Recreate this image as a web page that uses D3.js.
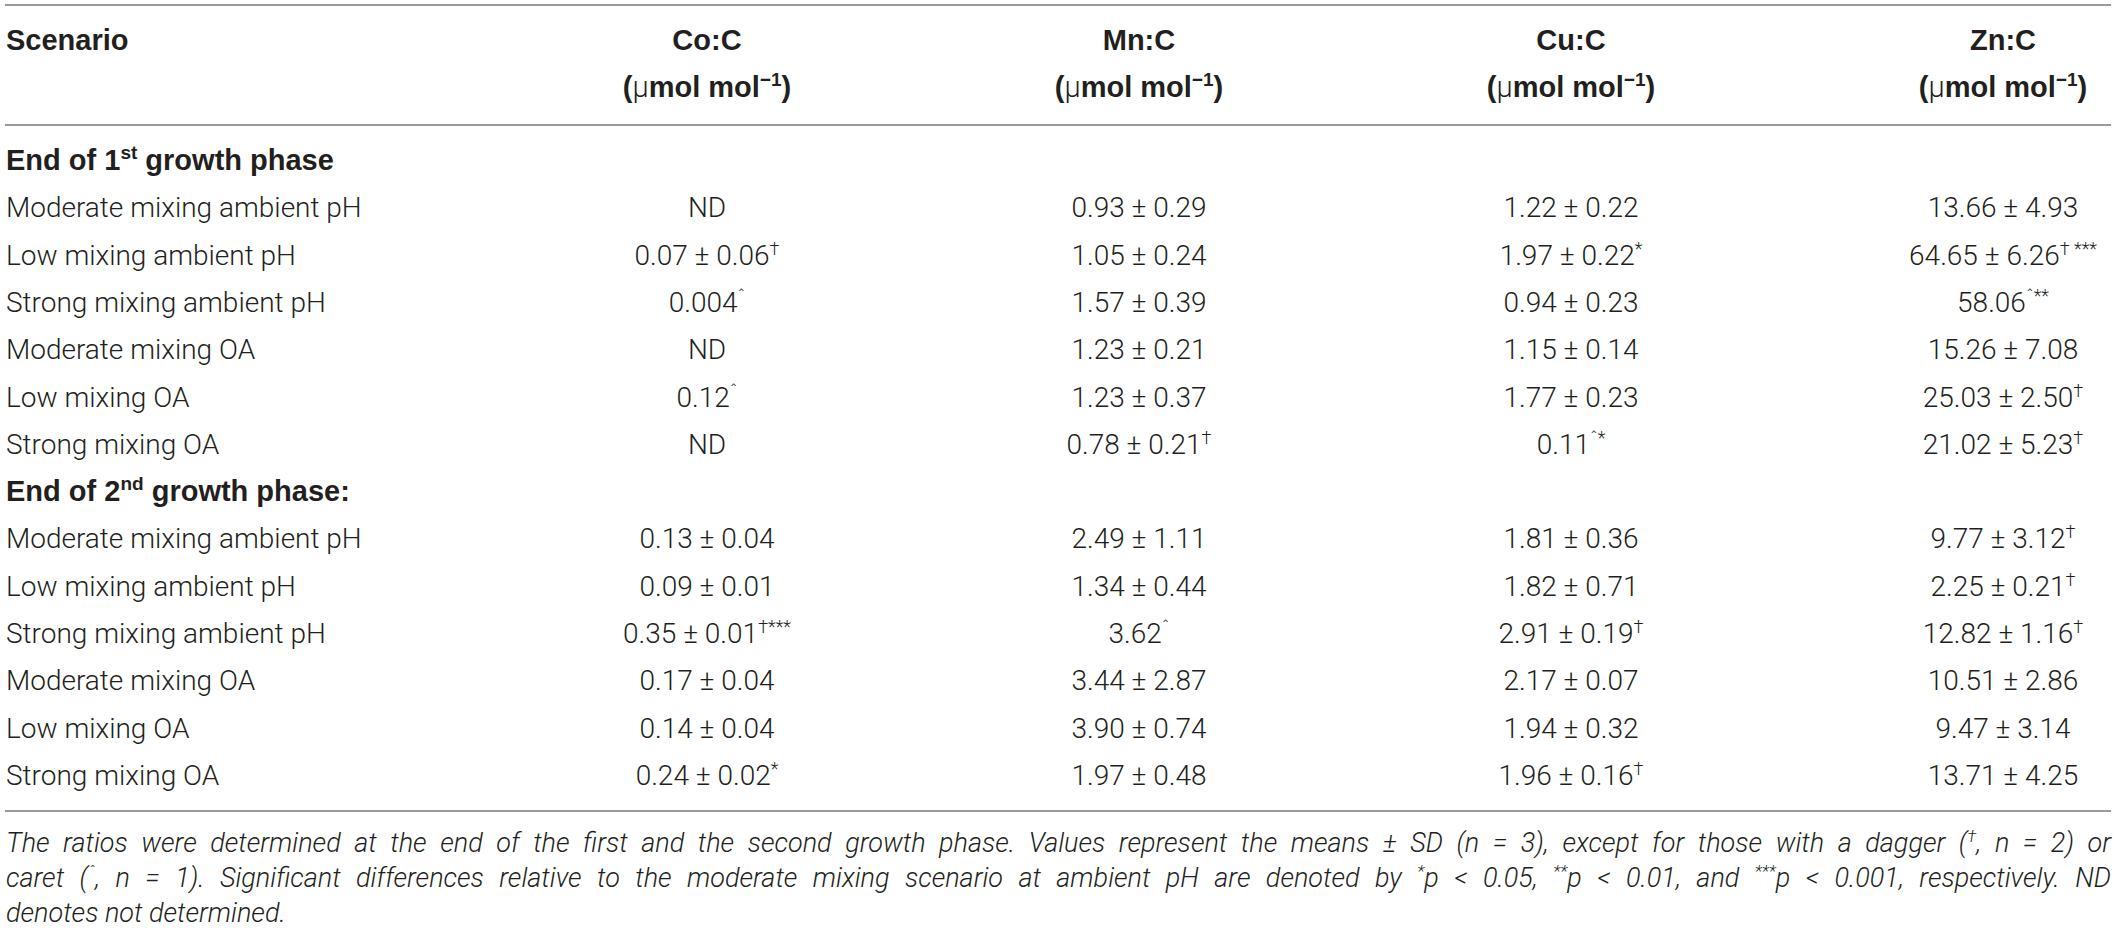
<!DOCTYPE html>
<html>
<head>
<meta charset="utf-8">
<script src="https://cdn.jsdelivr.net/npm/d3@7"></script>
<style>
body { margin: 0; background: #fff; }
text { fill: #231f20; }
.hd { font-family: "Liberation Sans", Arial, sans-serif; font-weight: 700; font-size: 29px; }
.bd { font-family: Roboto, "Liberation Sans", sans-serif; font-weight: 300; font-size: 28px; }
.fn { font-family: Roboto, "Liberation Sans", sans-serif; font-weight: 300; font-style: italic; font-size: 27px; }
</style>
</head>
<body>
<svg id="mainScene"></svg>
<script>
var columns = ["Co:C", "Mn:C", "Cu:C", "Zn:C"];
var unitLabel = ["(", "μ", "mol mol", "−1", ")"];

var phases = [
  ["End of 1", "st", " growth phase"],
  ["End of 2", "nd", " growth phase:"]
];

var scenarios = [
  "Moderate mixing ambient pH",
  "Low mixing ambient pH",
  "Strong mixing ambient pH",
  "Moderate mixing OA",
  "Low mixing OA",
  "Strong mixing OA"
];

// 12 rows each: six for the 1st growth phase, then six for the 2nd
var coC = ["ND", "0.07 ± 0.06", "0.004", "ND", "0.12", "ND",
           "0.13 ± 0.04", "0.09 ± 0.01", "0.35 ± 0.01", "0.17 ± 0.04", "0.14 ± 0.04", "0.24 ± 0.02"];
var coSup = ["", "†", "ˆ", "", "ˆ", "",
             "", "", "†***", "", "", "*"];

var mnC = ["0.93 ± 0.29", "1.05 ± 0.24", "1.57 ± 0.39", "1.23 ± 0.21", "1.23 ± 0.37", "0.78 ± 0.21",
           "2.49 ± 1.11", "1.34 ± 0.44", "3.62", "3.44 ± 2.87", "3.90 ± 0.74", "1.97 ± 0.48"];
var mnSup = ["", "", "", "", "", "†",
             "", "", "ˆ", "", "", ""];

var cuC = ["1.22 ± 0.22", "1.97 ± 0.22", "0.94 ± 0.23", "1.15 ± 0.14", "1.77 ± 0.23", "0.11",
           "1.81 ± 0.36", "1.82 ± 0.71", "2.91 ± 0.19", "2.17 ± 0.07", "1.94 ± 0.32", "1.96 ± 0.16"];
var cuSup = ["", "*", "", "", "", "ˆ*",
             "", "", "†", "", "", "†"];

var znC = ["13.66 ± 4.93", "64.65 ± 6.26", "58.06", "15.26 ± 7.08", "25.03 ± 2.50", "21.02 ± 5.23",
           "9.77 ± 3.12", "2.25 ± 0.21", "12.82 ± 1.16", "10.51 ± 2.86", "9.47 ± 3.14", "13.71 ± 4.25"];
var znSup = ["", "† ***", "ˆ**", "", "†", "†",
             "†", "†", "†", "", "", ""];

// footnote lines, pieces flagged true are superscript
var footnote = [
  [["The ratios were determined at the end of the first and the second growth phase. Values represent the means ± SD (n = 3), except for those with a dagger (", false], ["†", true], [", n = 2) or", false]],
  [["caret (", false], ["ˆ", true], [", n = 1). Significant differences relative to the moderate mixing scenario at ambient pH are denoted by ", false], ["*", true], ["p < 0.05, ", false], ["**", true], ["p < 0.01, and ", false], ["***", true], ["p < 0.001, respectively. ND", false]],
  [["denotes not determined.", false]]
];

var ctx = {
  w: 2118,
  h: 934,
  left: 6,
  right: 2111
};

var svg = d3.select("#mainScene")
  .attr("width", ctx.w)
  .attr("height", ctx.h);

// build row list: phase header then its six scenarios
var rows = [];
phases.forEach(function(p, pi) {
  rows.push({key: "p" + pi, phase: p});
  scenarios.forEach(function(s, si) {
    rows.push({key: "r" + pi + "-" + si, label: s, idx: pi * 6 + si});
  });
});

var y = d3.scalePoint()
  .domain(rows.map(function(d) { return d.key; }))
  .range([170, 785]);

var x = d3.scalePoint()
  .domain(columns)
  .range([707, 2003]);

var colVals = {"Co:C": [coC, coSup], "Mn:C": [mnC, mnSup], "Cu:C": [cuC, cuSup], "Zn:C": [znC, znSup]};

// rules
[5, 125, 811].forEach(function(ly) {
  svg.append("line")
    .attr("x1", ctx.left - 1).attr("x2", ctx.right)
    .attr("y1", ly).attr("y2", ly)
    .attr("stroke", "#9a9a9a")
    .attr("stroke-width", 2);
});

// header
svg.append("text")
  .attr("class", "hd")
  .attr("x", ctx.left).attr("y", 50)
  .text("Scenario");

columns.forEach(function(c) {
  svg.append("text")
    .attr("class", "hd")
    .attr("x", x(c)).attr("y", 50)
    .attr("text-anchor", "middle")
    .text(c);

  var u = svg.append("text")
    .attr("class", "hd")
    .attr("x", x(c)).attr("y", 97)
    .attr("text-anchor", "middle");
  u.append("tspan").text(unitLabel[0]);
  u.append("tspan").style("font-weight", 300).style("font-family", "Roboto").text(unitLabel[1]);
  u.append("tspan").text(unitLabel[2]);
  u.append("tspan").attr("dy", -11).style("font-size", "19px").text(unitLabel[3]);
  u.append("tspan").attr("dy", 11).text(unitLabel[4]);
});

// body
rows.forEach(function(r) {
  if (r.phase) {
    var t = svg.append("text")
      .attr("class", "hd")
      .attr("x", ctx.left).attr("y", y(r.key));
    t.append("tspan").text(r.phase[0]);
    t.append("tspan").attr("dy", -11).style("font-size", "19px").text(r.phase[1]);
    t.append("tspan").attr("dy", 11).text(r.phase[2]);
    return;
  }
  svg.append("text")
    .attr("class", "bd")
    .attr("x", ctx.left).attr("y", y(r.key))
    .text(r.label);

  columns.forEach(function(c) {
    var v = colVals[c][0][r.idx];
    var s = colVals[c][1][r.idx];
    var t = svg.append("text")
      .attr("class", "bd")
      .attr("x", x(c)).attr("y", y(r.key))
      .attr("text-anchor", "middle");
    t.append("tspan").text(v);
    if (s) {
      t.append("tspan").attr("dy", -10).style("font-size", "18px").text(s);
    }
  });
});

// footnote, justified lines
var fnY = [852, 887, 922];
footnote.forEach(function(line, li) {
  var t = svg.append("text")
    .attr("class", "fn")
    .attr("x", ctx.left).attr("y", fnY[li]);
  var up = false;
  line.forEach(function(seg) {
    var sp = t.append("tspan").text(seg[0]);
    if (seg[1]) {
      sp.attr("dy", -10).style("font-size", "17px");
      up = true;
    } else if (up) {
      sp.attr("dy", 10);
      up = false;
    }
  });
  if (li < footnote.length - 1) {
    var w = t.node().getComputedTextLength();
    var txt = line.map(function(d) { return d[0]; }).join("");
    var gaps = txt.split(" ").length - 1;
    t.attr("word-spacing", (ctx.right - ctx.left - w) / gaps);
  }
});
</script>
</body>
</html>
